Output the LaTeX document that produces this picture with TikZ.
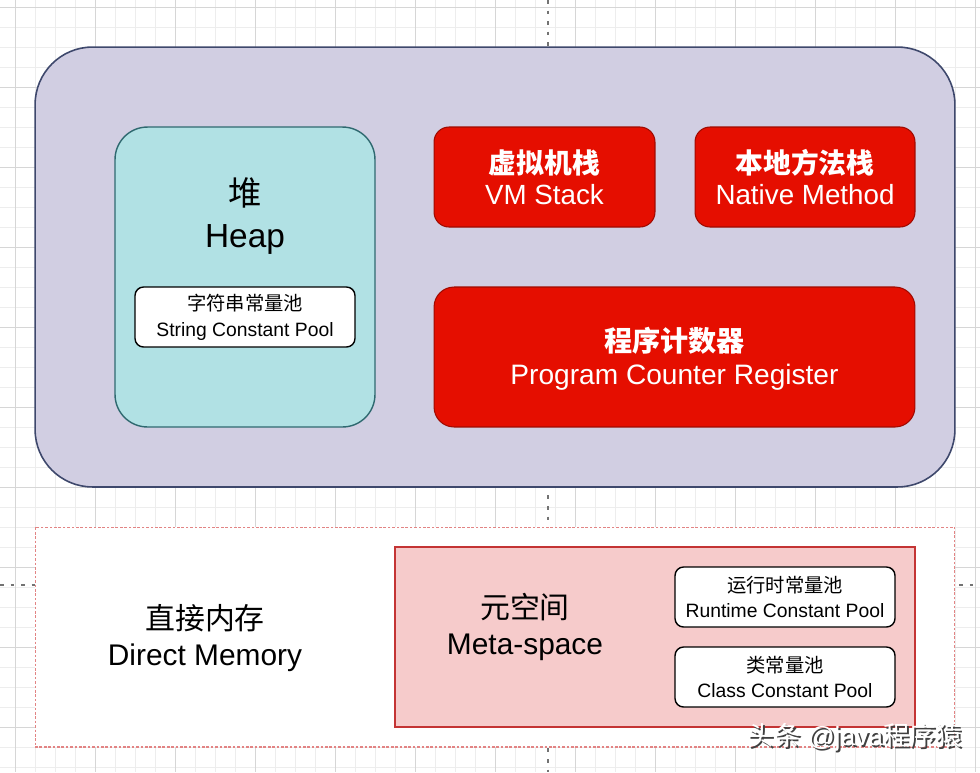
\documentclass[tikz,border=0pt]{standalone}
\usepackage{fontspec}
\setmainfont{Liberation Sans}
\newfontfamily\cjk{Noto Sans CJK SC}
\usetikzlibrary{calc}

\definecolor{jvmfill}{RGB}{209,206,226}
\definecolor{jvmline}{RGB}{62,72,108}
\definecolor{heapfill}{RGB}{177,225,228}
\definecolor{heapline}{RGB}{47,105,112}
\definecolor{stackfill}{RGB}{229,14,0}
\definecolor{stackline}{RGB}{160,10,0}
\definecolor{metafill}{RGB}{246,203,203}
\definecolor{metaline}{RGB}{196,52,52}
\definecolor{directline}{RGB}{226,132,132}

\tikzset{
	gridminor/.style={draw=black!7, line width=0.35pt},
	gridmajor/.style={draw=black!16, line width=0.45pt},
	guideline/.style={draw=black!55, line width=0.6pt, dash pattern=on 2pt off 4pt},
	poolbox/.style={draw=black, fill=white, rounded corners=0.17cm, line width=0.8pt,
		minimum width=4.4cm, minimum height=1.2cm, inner sep=0pt},
	pooltext/.style={align=center, font=\fontsize{11}{14.7}\selectfont},
	redbox/.style={draw=stackline, fill=stackfill, rounded corners=0.3cm, line width=0.6pt,
		inner sep=0pt},
	redtext/.style={align=center, text=white, font=\fontsize{15.8}{17.8}\selectfont},
	bigtext/.style={align=center, font=\fontsize{17}{20.3}\selectfont},
}

\begin{document}
\begin{tikzpicture}[x=0.02cm, y=-0.02cm]
		%%%%% START %%%%%
		\useasboundingbox[fill=white] (0,0) rectangle (980,772);
		
		% background grid
		\foreach \gx in {15,35,...,975} \draw[gridminor] (\gx,0) -- (\gx,772);
		\foreach \gy in {7,27,...,767} \draw[gridminor] (0,\gy) -- (980,\gy);
		\foreach \gx in {15,95,...,975} \draw[gridmajor] (\gx,0) -- (\gx,772);
		\foreach \gy in {7,87,...,727} \draw[gridmajor] (0,\gy) -- (980,\gy);
		
		\draw[guideline] (548,0) -- (548,772);
		\draw[guideline] (0,585) -- (980,585);
		
		% runtime data area
		\node[draw=jvmline, fill=jvmfill, line width=0.9pt, rounded corners=1.15cm,
			minimum width=18.4cm, minimum height=8.8cm] (jvm) at (495,267) {};
		
		\node[draw=heapline, fill=heapfill, line width=0.8pt, rounded corners=0.65cm,
			minimum width=5.2cm, minimum height=6cm] (heap) at (245,277) {};
		\node[align=center, font=\fontsize{19}{23.8}\selectfont] (heaptext) at (245,216) {{\cjk 堆}\\Heap};
		\node[poolbox] (strpool) at (245,317) {};
		\node[pooltext] (strpooltext) at (strpool) {{\cjk 字符串常量池}\\String Constant Pool};
		
		\node[redbox, minimum width=4.42cm, minimum height=2cm] (vmstack) at (544.5,177) {};
		\node[redtext] (vmstacktext) at (vmstack) {{\cjk\bfseries 虚拟机栈}\\VM Stack};
		\node[redbox, minimum width=4.4cm, minimum height=2cm] (native) at (805,177) {};
		\node[redtext] (nativetext) at (native) {{\cjk\bfseries 本地方法栈}\\Native Method};
		\node[redbox, rounded corners=0.4cm, minimum width=9.62cm, minimum height=2.8cm] (pcr) at (674.5,357) {};
		\node[redtext, font=\fontsize{16}{18.7}\selectfont] (pcrtext) at (674.5,359) {{\cjk\bfseries 程序计数器}\\Program Counter Register};
		
		% direct memory
		\node[draw=directline, fill=white, line width=0.6pt, dash pattern=on 1.5pt off 1pt,
			minimum width=18.4cm, minimum height=4.4cm] (direct) at (495,637) {};
		\node[bigtext] (directtext) at (205,638) {{\cjk 直接内存}\\Direct Memory};
		
		\node[draw=metaline, fill=metafill, line width=0.9pt,
			minimum width=10.4cm, minimum height=3.6cm] (meta) at (655,637) {};
		\node[bigtext, font=\fontsize{17}{20}\selectfont] (metatext) at (525,627) {{\cjk 元空间}\\Meta-space};
		
		\node[poolbox] (rtpool) at (785,597) {};
		\node[pooltext] (rtpooltext) at (rtpool) {{\cjk 运行时常量池}\\Runtime Constant Pool};
		\node[poolbox] (clspool) at (785,677) {};
		\node[pooltext] (clspooltext) at (clspool) {{\cjk 类常量池}\\Class Constant Pool};
		
		% watermark
		\node[text=black!75, font=\fontsize{15}{15}\selectfont] (wmshade) at (857,739) {{\cjk 头条} @java{\cjk 程序猿}};
		\node[text=white, font=\fontsize{15}{15}\selectfont] (wm) at (855,737) {{\cjk 头条} @java{\cjk 程序猿}};
		
		%%%%% END %%%%%
	\end{tikzpicture}
\end{document}
